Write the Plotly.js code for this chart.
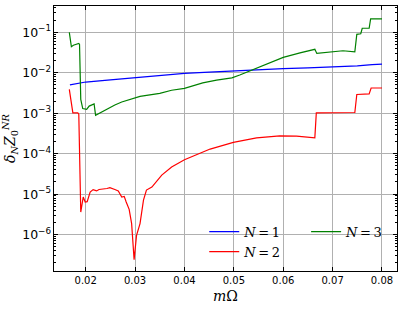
<!DOCTYPE html>
<html>
<head>
<meta charset="utf-8">
<script src="https://cdn.plot.ly/plotly-3.0.1.min.js"></script>
<style>
  html, body { margin: 0; padding: 0; background: #fff; }
  #chart { width: 407px; height: 311px; }
</style>
</head>
<body>
<div id="chart"></div>
<script>
// N = 1
var n1_x = [0.0168, 0.018, 0.02, 0.025, 0.03, 0.035, 0.04, 0.045, 0.05, 0.055, 0.06, 0.065, 0.07, 0.073, 0.075, 0.078, 0.08];
var n1_y = [0.0050, 0.0054, 0.0059, 0.0067, 0.0076, 0.0086, 0.0096, 0.0104, 0.0112, 0.0119, 0.0126, 0.0132, 0.0139, 0.0143, 0.0148, 0.0158, 0.0164];

// N = 2
var n2_x = [0.01668, 0.0174, 0.0184, 0.0186, 0.0190, 0.0195, 0.0199, 0.0203, 0.0209, 0.0215, 0.0222, 0.0227,
            0.0243, 0.0249, 0.0259, 0.0266, 0.0273, 0.0278, 0.0282, 0.0288, 0.0293, 0.0298, 0.0303, 0.0310,
            0.0317, 0.0323, 0.0334, 0.0354, 0.0374, 0.0400, 0.0452, 0.0499, 0.0546, 0.0593, 0.0627, 0.0664,
            0.0667, 0.0745, 0.0749, 0.0774, 0.0778, 0.0800];
var n2_y = [0.0039, 0.00102, 0.00102, 0.00095, 3.6e-6, 8.5e-6, 6.4e-6, 6.5e-6, 1.12e-5, 1.29e-5, 1.2e-5, 1.3e-5,
            1.38e-5, 1.45e-5, 1.3e-5, 1.2e-5, 8.5e-6, 8.8e-6, 6.4e-6, 4.2e-6, 1.87e-6, 2.4e-7, 9.6e-7, 1.87e-6,
            7.1e-6, 1.26e-5, 1.5e-5, 2.95e-5, 4.7e-5, 7.1e-5, 1.3e-4, 1.9e-4, 2.46e-4, 2.75e-4, 2.7e-4, 2.46e-4,
            1.02e-3, 1.04e-3, 2.9e-3, 3.0e-3, 4.2e-3, 4.2e-3];

// N = 3
var n3_x = [0.01668, 0.0171, 0.0175, 0.0186, 0.01875, 0.0190, 0.0194, 0.0202, 0.0207, 0.0217, 0.0220, 0.0229,
            0.0243, 0.0259, 0.0273, 0.0293, 0.0310, 0.0350, 0.0374, 0.0400, 0.0437, 0.0465, 0.0496, 0.0512,
            0.0539, 0.0573, 0.0600, 0.0634, 0.0664, 0.0668, 0.0695, 0.0721, 0.0745, 0.0749, 0.0757, 0.0760,
            0.0774, 0.0777, 0.0800];
var n3_y = [0.100, 0.044, 0.048, 0.053, 0.050, 0.0022, 0.0013, 0.00125, 0.0015, 0.0017, 0.00089, 0.00102,
            0.0013, 0.0016, 0.0019, 0.0022, 0.0026, 0.0031, 0.0037, 0.0041, 0.0056, 0.0066, 0.0075, 0.0088,
            0.012, 0.018, 0.024, 0.031, 0.038, 0.030, 0.033, 0.035, 0.033, 0.089, 0.092, 0.126,
            0.126, 0.214, 0.214];

var x_ticks = [0.02, 0.03, 0.04, 0.05, 0.06, 0.07, 0.08];

var legendFont = {family: 'DejaVu Serif', size: 13, color: '#000'};

var traces = [
    {x: n1_x, y: n1_y, name: '<i>N</i>\u2009=\u20091', mode: 'lines', line: {color: '#0000ff', width: 1.2}, legend: 'legend'},
    {x: n2_x, y: n2_y, name: '<i>N</i>\u2009=\u20092', mode: 'lines', line: {color: '#ff0000', width: 1.2}, legend: 'legend'},
    {x: n3_x, y: n3_y, name: '<i>N</i>\u2009=\u20093', mode: 'lines', line: {color: '#008000', width: 1.2}, legend: 'legend2'}
];

var layout = {
    width: 407,
    height: 311,
    margin: {l: 54, r: 10, t: 6, b: 40},
    paper_bgcolor: '#fff',
    plot_bgcolor: '#fff',
    font: {family: 'DejaVu Sans', size: 10, color: '#000'},
    xaxis: {
        range: [0.01358, 0.08304],
        tickvals: x_ticks,
        tickformat: '.2f',
        ticks: 'inside',
        ticklen: 4,
        tickcolor: '#000',
        showline: true,
        linecolor: '#000',
        linewidth: 1,
        mirror: 'ticks',
        showgrid: true,
        gridcolor: '#b0b0b0',
        gridwidth: 1,
        zeroline: false,
        title: {text: '<i>m</i>\u03a9', font: {family: 'DejaVu Serif', size: 14}, standoff: 6}
    },
    yaxis: {
        type: 'log',
        range: [-6.90, -0.35],
        dtick: 1,
        exponentformat: 'power',
        ticks: 'inside',
        ticklen: 4,
        tickcolor: '#000',
        showline: true,
        linecolor: '#000',
        linewidth: 1,
        mirror: 'ticks',
        showgrid: true,
        gridcolor: '#b0b0b0',
        gridwidth: 1,
        zeroline: false,
        minor: {ticks: 'inside', ticklen: 2, tickcolor: '#000', dtick: 'D1', showgrid: false},
        title: {text: '<i>\u03b4<sub>N</sub>Z</i><sub>0</sub><sup><i>NR</i></sup>', font: {family: 'DejaVu Serif', size: 14}, standoff: 6}
    },
    showlegend: true,
    legend: {
        x: 0.438, y: 0.205, xanchor: 'left', yanchor: 'top',
        bgcolor: 'rgba(0,0,0,0)', font: legendFont, itemwidth: 30
    },
    legend2: {
        x: 0.735, y: 0.205, xanchor: 'left', yanchor: 'top',
        bgcolor: 'rgba(0,0,0,0)', font: legendFont, itemwidth: 30
    }
};

Plotly.newPlot('chart', traces, layout, {displayModeBar: false, staticPlot: true});
</script>
</body>
</html>
